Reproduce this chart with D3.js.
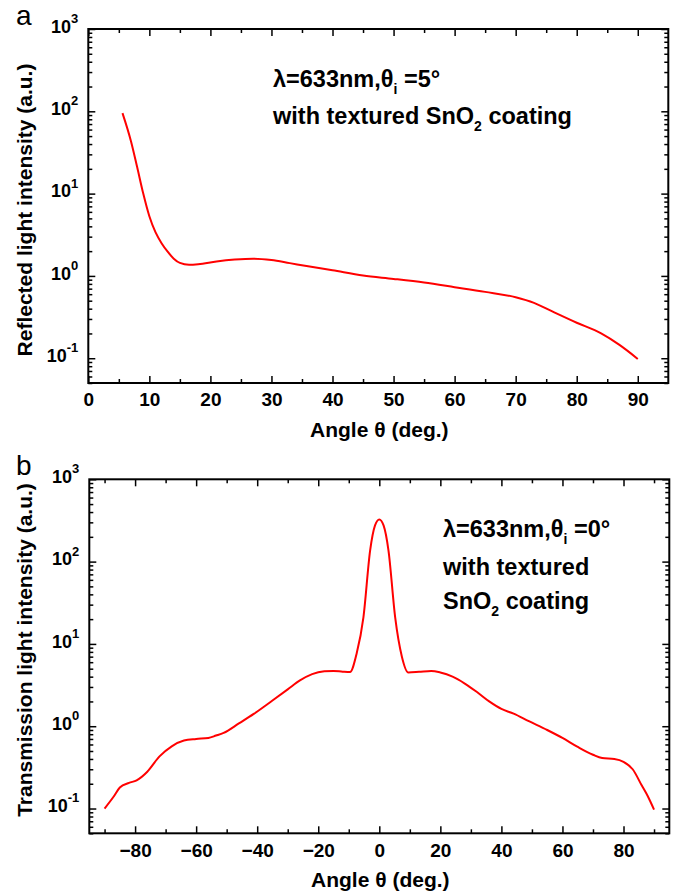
<!DOCTYPE html>
<html>
<head>
<meta charset="utf-8">
<script src="https://cdn.jsdelivr.net/npm/d3@7"></script>
<style>
  body { margin: 0; background: #fff; }
  svg text { font-family: "Liberation Sans", Arial, sans-serif; }
</style>
</head>
<body>
<div id="chart"></div>
<script>
// panel a: reflected light
const reflAngle = [5.6, 7, 8, 9, 10, 11, 12, 13, 14, 15, 16.5, 18, 21, 24, 27, 30, 33, 36, 40, 45, 50, 55, 60, 65, 70, 73, 76, 80, 84, 87, 90];
const reflIntensity = [95, 43, 21, 10, 5.3, 3.4, 2.5, 1.97, 1.62, 1.44, 1.37, 1.39, 1.50, 1.58, 1.62, 1.56, 1.43, 1.31, 1.17, 1.01, 0.92, 0.83, 0.73, 0.64, 0.55, 0.47, 0.37, 0.27, 0.20, 0.145, 0.098];

// panel b: transmitted light
const transAngle = [-90, -87, -85, -82, -79.5, -76, -72, -68, -64, -60, -56, -53.5, -51, -46, -41, -35, -30, -26, -22, -18, -15, -12, -9.6, -7.4, -5.2, -3, -1.4, 0, 1.4, 3, 5.2, 7.4, 9.5, 13, 17, 20, 24, 28, 32, 36, 40, 44, 49, 55, 60, 65, 70, 73, 77, 80, 83, 86, 88, 90];
const transIntensity = [0.1, 0.14, 0.18, 0.205, 0.22, 0.28, 0.43, 0.57, 0.67, 0.70, 0.72, 0.77, 0.83, 1.08, 1.42, 2.05, 2.8, 3.6, 4.3, 4.65, 4.7, 4.6, 4.55, 7.7, 21, 137, 275, 325, 275, 137, 21, 7.0, 4.5, 4.58, 4.7, 4.5, 4.0, 3.3, 2.6, 2.0, 1.62, 1.42, 1.15, 0.9, 0.72, 0.56, 0.45, 0.41, 0.40, 0.37, 0.30, 0.19, 0.14, 0.097];

const reflXTicks = [0, 10, 20, 30, 40, 50, 60, 70, 80, 90];
const reflXMinor = [5, 15, 25, 35, 45, 55, 65, 75, 85];
const transXTicks = [-80, -60, -40, -20, 0, 20, 40, 60, 80];
const transXMinor = [-90, -70, -50, -30, -10, 10, 30, 50, 70, 90];
const yTickExps = [-1, 0, 1, 2, 3];

const W = 678, H = 894;
const font = "'Liberation Sans', Arial, sans-serif";

const svg = d3.select("#chart").append("svg")
  .attr("width", W)
  .attr("height", H);

function drawPanel(opt) {
  const width = 580, height = 354;
  const g = svg.append("g").attr("transform", `translate(${opt.left},${opt.top})`);

  const x = d3.scaleLinear().domain(opt.xDomain).range([0, width]);
  const y = d3.scaleLog().domain([0.05, 1000]).range([height, 0]);

  const yMajor = yTickExps.map(e => Math.pow(10, e));
  const yMinor = [];
  [-2, -1, 0, 1, 2].forEach(e => {
    for (let k = 2; k <= 9; k++) {
      const v = k * Math.pow(10, e);
      if (v >= 0.05 && v < 1000) yMinor.push(v);
    }
  });

  // bottom axis with labels, ticks pointing inward
  const xb = g.append("g").attr("transform", `translate(0,${height})`)
    .call(d3.axisBottom(x).tickValues(opt.xTicks).tickSizeInner(-7).tickSizeOuter(0).tickPadding(10));
  xb.selectAll("text")
    .attr("font-size", 19).attr("font-weight", "bold").attr("fill", "#000")
    .style("font-family", font);
  g.append("g").attr("transform", `translate(0,${height})`)
    .call(d3.axisBottom(x).tickValues(opt.xMinor).tickSizeInner(-4).tickSizeOuter(0).tickFormat(""));

  // top axis, no labels
  g.append("g")
    .call(d3.axisTop(x).tickValues(opt.xTicks).tickSizeInner(-7).tickSizeOuter(0).tickFormat(""));
  g.append("g")
    .call(d3.axisTop(x).tickValues(opt.xMinor).tickSizeInner(-4).tickSizeOuter(0).tickFormat(""));

  // left axis with 10^n labels
  const yl = g.append("g")
    .call(d3.axisLeft(y).tickValues(yMajor).tickSizeInner(-7).tickSizeOuter(0).tickPadding(10));
  yl.selectAll("text").each(function(d) {
    const t = d3.select(this).text(null)
      .attr("font-weight", "bold").attr("fill", "#000")
      .style("font-family", font);
    t.append("tspan").attr("font-size", 18).text("10");
    t.append("tspan").attr("font-size", 13).attr("dy", "-0.75em").text(Math.round(Math.log10(d)));
  });
  g.append("g")
    .call(d3.axisLeft(y).tickValues(yMinor).tickSizeInner(-4).tickSizeOuter(0).tickFormat(""));

  // right axis, no labels
  g.append("g").attr("transform", `translate(${width},0)`)
    .call(d3.axisRight(y).tickValues(yMajor).tickSizeInner(-7).tickSizeOuter(0).tickFormat(""));
  g.append("g").attr("transform", `translate(${width},0)`)
    .call(d3.axisRight(y).tickValues(yMinor).tickSizeInner(-4).tickSizeOuter(0).tickFormat(""));

  g.selectAll(".domain").remove();
  g.selectAll(".tick line").attr("stroke", "#000").attr("stroke-width", 1.5);

  g.append("rect")
    .attr("width", width).attr("height", height)
    .attr("fill", "none").attr("stroke", "#000").attr("stroke-width", 2);

  const pts = opt.xs.map((a, i) => ({ a, v: opt.ys[i] }));
  const line = d3.line()
    .x(d => x(d.a))
    .y(d => y(d.v))
    .curve(d3.curveMonotoneX);

  g.append("path")
    .datum(pts)
    .attr("fill", "none")
    .attr("stroke", "#ff0000")
    .attr("stroke-width", 2)
    .attr("d", line);

  // axis titles
  svg.append("text")
    .attr("x", opt.left + width / 2 + 1)
    .attr("y", opt.top + height + 54)
    .attr("text-anchor", "middle")
    .attr("font-size", 21).attr("font-weight", "bold")
    .text("Angle θ (deg.)");

  svg.append("text")
    .attr("transform", `translate(32,${opt.yTitleCenter}) rotate(-90)`)
    .attr("text-anchor", "middle")
    .attr("font-size", 21).attr("font-weight", "bold")
    .text(opt.yTitle);

  // panel letter
  svg.append("text")
    .attr("x", 16).attr("y", opt.top - 4)
    .attr("font-size", 28)
    .text(opt.letter);

  // annotation lines, subscripts shifted down then back up
  opt.notes.forEach(n => {
    const t = svg.append("text")
      .attr("x", n.x).attr("y", n.y)
      .attr("font-size", 23.5).attr("font-weight", "bold");
    let shift = 0;
    n.parts.forEach(p => {
      const s = t.append("tspan").text(p.text);
      if (p.sub) {
        s.attr("font-size", 14).attr("dy", 7);
        shift = 7;
      } else if (shift) {
        s.attr("dy", -shift);
        shift = 0;
      }
    });
  });
}

drawPanel({
  left: 88.3, top: 29,
  xDomain: [0, 95], xTicks: reflXTicks, xMinor: reflXMinor,
  xs: reflAngle, ys: reflIntensity,
  yTitle: "Reflected light intensity (a.u.)", yTitleCenter: 210,
  letter: "a",
  notes: [
    { x: 273, y: 87, parts: [{ text: "λ=633nm,θ" }, { text: "i", sub: true }, { text: " =5°" }] },
    { x: 273, y: 124, parts: [{ text: "with textured SnO" }, { text: "2", sub: true }, { text: " coating" }] }
  ]
});

drawPanel({
  left: 89.3, top: 479.3,
  xDomain: [-95, 95], xTicks: transXTicks, xMinor: transXMinor,
  xs: transAngle, ys: transIntensity,
  yTitle: "Transmission light intensity (a.u.)", yTitleCenter: 650,
  letter: "b",
  notes: [
    { x: 443, y: 537, parts: [{ text: "λ=633nm,θ" }, { text: "i", sub: true }, { text: " =0°" }] },
    { x: 443, y: 575, parts: [{ text: "with textured" }] },
    { x: 443, y: 609, parts: [{ text: "SnO" }, { text: "2", sub: true }, { text: " coating" }] }
  ]
});
</script>
</body>
</html>
